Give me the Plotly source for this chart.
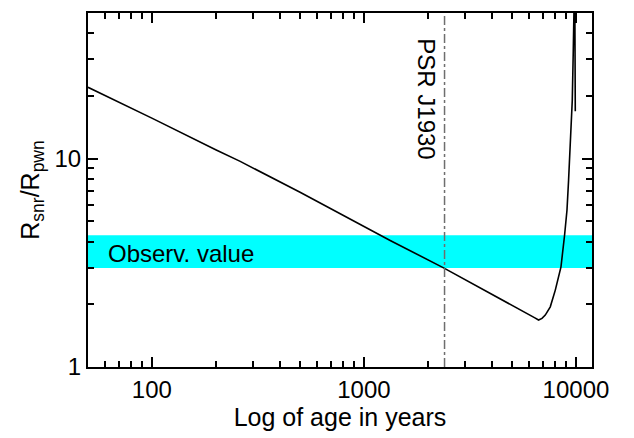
import math
import plotly.graph_objects as go

# Data
age = [50, 100, 200, 261, 500, 1000, 1330, 2375, 4000, 6400, 6662, 6914, 7165,
       7565, 7989, 8277, 8497, 8835, 9068, 9228, 9329, 9472, 9605, 9711, 9817,
       9860, 9925]
ratio = [22.0, 15.65, 11.03, 9.70, 6.90, 4.72, 4.05, 2.99, 2.245, 1.72, 1.68,
         1.711, 1.775, 1.945, 2.339, 2.708, 3.024, 4.29, 5.65, 7.87, 10.0, 13.66,
         19.0, 33.0, 49.5, 80.0, 16.9]

psr_age = 2400
obs_low, obs_high = 2.99, 4.29
band_x = [30, 30000]

x_major = [100, 1000, 10000]
x_major_text = ["100", "1000", "10000"]
x_minor = [50, 60, 70, 80, 90, 200, 300, 400, 500, 600, 700, 800, 900,
           2000, 3000, 4000, 5000, 6000, 7000, 8000, 9000]
y_major = [1, 10]
y_major_text = ["1", "10"]
y_minor = [2, 3, 4, 5, 6, 7, 8, 9, 20, 30, 40]

x_range = [50, 11900]
y_range = [1, 50]

FONT = "Liberation Sans, Arial, Helvetica, sans-serif"

fig = go.Figure()

# observed value band
fig.add_trace(go.Scatter(
    x=[band_x[0], band_x[1], band_x[1], band_x[0], band_x[0]],
    y=[obs_low, obs_low, obs_high, obs_high, obs_low],
    mode="lines", fill="toself", fillcolor="#00FFFF",
    line=dict(width=0, color="#00FFFF"), hoverinfo="skip"))

# model curve
fig.add_trace(go.Scatter(x=age, y=ratio, mode="lines",
                         line=dict(color="black", width=1.6), hoverinfo="skip"))

# PSR age marker
fig.add_trace(go.Scatter(x=[psr_age, psr_age], y=[y_range[0], y_range[1]],
                         mode="lines",
                         line=dict(color="#6e6e6e", width=1.5, dash="dashdot"),
                         hoverinfo="skip"))

axis_common = dict(
    type="log", showline=True, linecolor="black", linewidth=2, mirror="ticks",
    ticks="inside", ticklen=10, tickwidth=2, tickcolor="black",
    showgrid=False, zeroline=False, tickmode="array",
    tickfont=dict(size=24, color="black", family=FONT),
)

fig.update_layout(
    width=634, height=438,
    margin=dict(l=88, r=42, t=11, b=71),
    paper_bgcolor="white", plot_bgcolor="white",
    showlegend=False,
    font=dict(family=FONT, color="black"),
    xaxis=dict(
        **axis_common,
        range=[math.log10(x_range[0]), math.log10(x_range[1])],
        tickvals=x_major, ticktext=x_major_text,
        minor=dict(tickmode="array", tickvals=x_minor, ticks="inside",
                   ticklen=6, tickwidth=1.5, tickcolor="black", showgrid=False),
        title=dict(text="Log of age in years", font=dict(size=25, family=FONT),
                   standoff=6),
    ),
    yaxis=dict(
        **axis_common,
        range=[math.log10(y_range[0]), math.log10(y_range[1])],
        tickvals=y_major, ticktext=y_major_text,
        minor=dict(tickmode="array", tickvals=y_minor, ticks="inside",
                   ticklen=6, tickwidth=1.5, tickcolor="black", showgrid=False),
        title=dict(text="R<sub>snr</sub>/R<sub>pwn</sub>",
                   font=dict(size=25, family=FONT), standoff=8),
    ),
    annotations=[
        dict(text="Observ. value", xref="paper", yref="paper",
             x=0.035, y=(367 - 253) / 356.0, xanchor="left", yanchor="middle",
             showarrow=False, font=dict(size=24, color="black", family=FONT)),
        dict(text="PSR J1930", xref="paper", yref="paper",
             x=(426 - 88) / 503.7, y=(367 - 97) / 356.0, textangle=90,
             xanchor="center", yanchor="middle",
             showarrow=False, font=dict(size=24, color="black", family=FONT)),
    ],
)

fig.write_html("out.html")
